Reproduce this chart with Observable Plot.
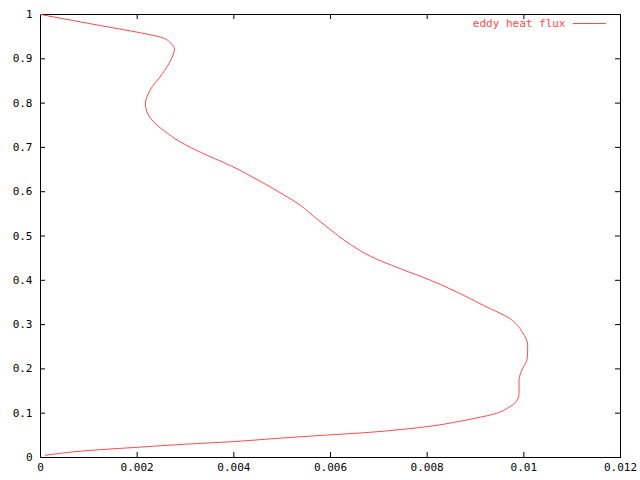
<!DOCTYPE html>
<html>
<head>
<meta charset="utf-8">
<script src="https://cdn.jsdelivr.net/npm/d3@7"></script>
<script src="https://cdn.jsdelivr.net/npm/@observablehq/plot@0.6"></script>
<style>
  html, body { margin: 0; padding: 0; background: #fff; }
  svg { display: block; }
</style>
</head>
<body>
<div id="chart"></div>
<script>
// eddy heat flux (x) versus height fraction (y), listed from top to bottom
const height = [1.0, 0.975, 0.9586, 0.949, 0.935, 0.922, 0.896, 0.866, 0.828, 0.798,
  0.765, 0.738, 0.712, 0.689, 0.659, 0.625, 0.597, 0.569, 0.541, 0.514,
  0.481, 0.454, 0.426, 0.400, 0.362, 0.343, 0.313, 0.283, 0.253, 0.223,
  0.200, 0.174, 0.144, 0.125, 0.111, 0.098, 0.091, 0.082, 0.0707, 0.063,
  0.057, 0.0497, 0.044, 0.036, 0.030, 0.023, 0.0158, 0.005];
const flux = [0.0, 0.00124, 0.00207, 0.00248, 0.00270, 0.00277, 0.00269, 0.00252, 0.00226, 0.00217,
  0.00228, 0.00255, 0.0029, 0.00331, 0.00393, 0.00452, 0.00497, 0.00538, 0.00569, 0.0060,
  0.00641, 0.00683, 0.00745, 0.00807, 0.00883, 0.00917, 0.00972, 0.00997, 0.01008, 0.01007,
  0.00997, 0.0099, 0.0099, 0.00983, 0.00966, 0.00938, 0.0091, 0.00869, 0.00807, 0.00745,
  0.00683, 0.00579, 0.0050, 0.0040, 0.0030, 0.0020, 0.0010, 0.0001];
const xTicks = [0, 0.002, 0.004, 0.006, 0.008, 0.01, 0.012];
const yTicks = [0, 0.1, 0.2, 0.3, 0.4, 0.5, 0.6, 0.7, 0.8, 0.9, 1];
const seriesName = "eddy heat flux";

const data = flux.map((f, i) => ({flux: f, h: height[i]}));
const red = "#ff4a4a";
const font = "DejaVu Sans Mono, monospace";

const chart = Plot.plot({
  width: 640,
  height: 480,
  marginLeft: 40,
  marginRight: 20,
  marginTop: 14,
  marginBottom: 23,
  style: {fontFamily: font, fontSize: "11px", color: "#000", background: "#fff"},
  x: {domain: [0, 0.012]},
  y: {domain: [0, 1]},
  marks: [
    // inward ticks, bottom and top
    Plot.tickX(xTicks, {x: d => d, insetTop: 438, stroke: "#000"}),
    Plot.tickX(xTicks, {x: d => d, insetBottom: 438, stroke: "#000"}),
    // inward ticks, left and right
    Plot.tickY(yTicks, {y: d => d, insetRight: 575, stroke: "#000"}),
    Plot.tickY(yTicks, {y: d => d, insetLeft: 575, stroke: "#000"}),
    Plot.axisX(xTicks, {anchor: "bottom", tickSize: 0, tickPadding: 6, tickFormat: d => String(d), label: null, fill: "#000"}),
    Plot.axisY(yTicks, {anchor: "left", tickSize: 0, tickPadding: 8, tickFormat: d => String(d), label: null, fill: "#000"}),
    Plot.frame({stroke: "#000"}),
    Plot.line(data, {x: "flux", y: "h", stroke: red, strokeWidth: 1, curve: "monotone-y"}),
    // legend
    Plot.text([seriesName], {frameAnchor: "top-right", dx: -55, dy: 9, lineAnchor: "middle", textAnchor: "end", fill: red, text: d => d}),
    Plot.tickY([1], {y: d => d, dy: 9, insetLeft: 533, insetRight: 14, stroke: red})
  ]
});
document.getElementById("chart").appendChild(chart);
</script>
</body>
</html>
